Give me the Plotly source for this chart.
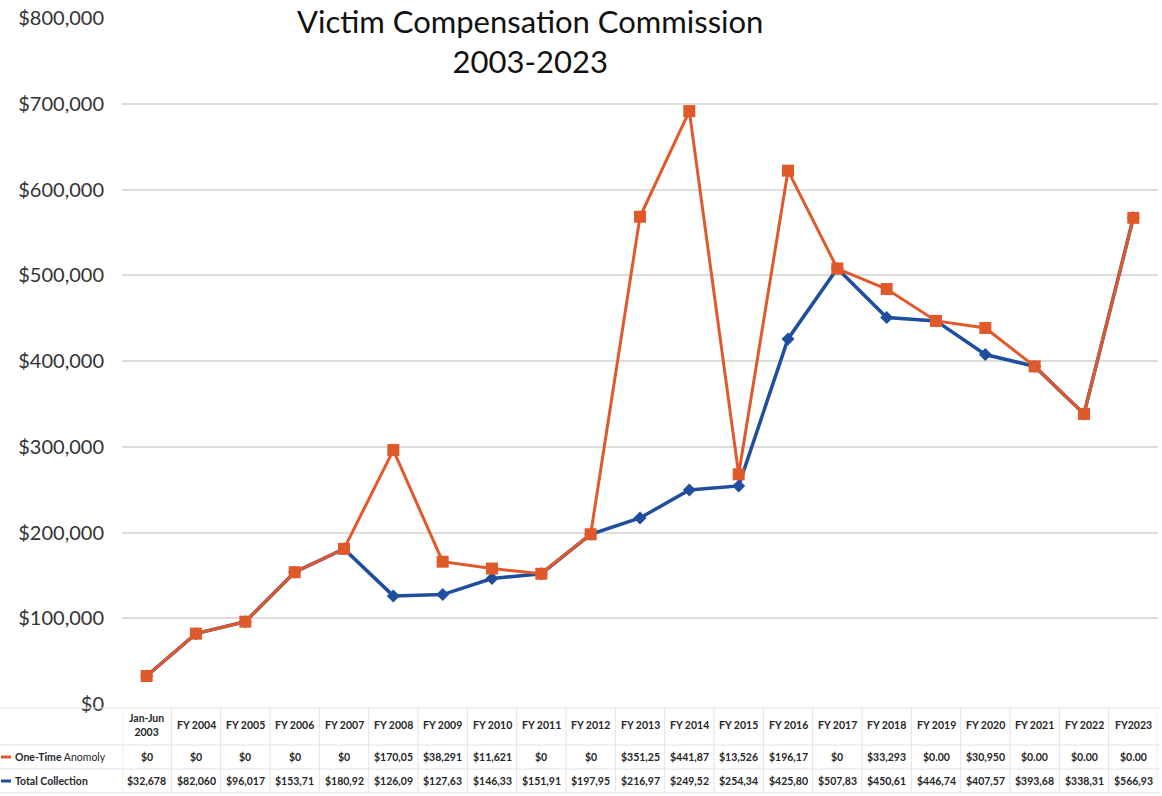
import plotly.graph_objects as go

categories = ["Jan-Jun<br>2003", "FY 2004", "FY 2005", "FY 2006", "FY 2007", "FY 2008",
              "FY 2009", "FY 2010", "FY 2011", "FY 2012", "FY 2013", "FY 2014", "FY 2015",
              "FY 2016", "FY 2017", "FY 2018", "FY 2019", "FY 2020", "FY 2021", "FY 2022", "FY2023"]
total_collection = [32678, 82060, 96017, 153710, 180920, 126090, 127630, 146330, 151910,
                    197950, 216970, 249520, 254340, 425800, 507830, 450610, 446740, 407570,
                    393680, 338310, 566930]
one_time_anomaly = [0, 0, 0, 0, 0, 170050, 38291, 11621, 0, 0, 351250, 441870, 13526,
                    196170, 0, 33293, 0, 30950, 0, 0, 0]
anomaly_labels = ["$0", "$0", "$0", "$0", "$0", "$170,05", "$38,291", "$11,621", "$0", "$0",
                  "$351,25", "$441,87", "$13,526", "$196,17", "$0", "$33,293", "$0.00",
                  "$30,950", "$0.00", "$0.00", "$0.00"]
total_labels = ["$32,678", "$82,060", "$96,017", "$153,71", "$180,92", "$126,09", "$127,63",
                "$146,33", "$151,91", "$197,95", "$216,97", "$249,52", "$254,34", "$425,80",
                "$507,83", "$450,61", "$446,74", "$407,57", "$393,68", "$338,31", "$566,93"]
y_ticks = [0, 100000, 200000, 300000, 400000, 500000, 600000, 700000, 800000]

ORANGE = "#E0592A"
BLUE = "#1F4E9E"
FONT = "Lato"
TXT = "#262626"

x = list(range(len(categories)))
stacked = [t + a for t, a in zip(total_collection, one_time_anomaly)]

fig = go.Figure()
fig.add_trace(go.Scatter(x=x, y=total_collection, mode="lines+markers", name="Total Collection",
                         line=dict(color=BLUE, width=3.5),
                         marker=dict(symbol="diamond", size=10, color=BLUE)))
fig.add_trace(go.Scatter(x=x, y=stacked, mode="lines+markers", name="One-Time Anomoly",
                         line=dict(color=ORANGE, width=3),
                         marker=dict(symbol="square", size=12, color=ORANGE)))

W, H = 1162, 796
ml, mr, mt, mb = 122, 4, 18, 92
ph = H - mt - mb
pw = W - ml - mr

def py(pix):
    return (H - mb - pix) / ph

def px(pix):
    return (pix - ml) / pw

annotations = []
for i, c in enumerate(categories):
    annotations.append(dict(x=i, xref="x", y=py(725), yref="paper", text="<b>" + c + "</b>",
                            showarrow=False, font=dict(family=FONT, size=10.5, color=TXT),
                            yanchor="middle"))
    annotations.append(dict(x=i, xref="x", y=py(757), yref="paper",
                            text="<b>" + anomaly_labels[i] + "</b>", showarrow=False,
                            font=dict(family=FONT, size=10.5, color=TXT), yanchor="middle"))
    annotations.append(dict(x=i, xref="x", y=py(781), yref="paper",
                            text="<b>" + total_labels[i] + "</b>", showarrow=False,
                            font=dict(family=FONT, size=10.5, color=TXT), yanchor="middle"))

annotations.append(dict(x=px(13), xref="paper", y=py(757), yref="paper",
                        text="<b>One-Time</b> Anomoly", showarrow=False, xanchor="left",
                        font=dict(family=FONT, size=10.5, color=TXT), yanchor="middle"))
annotations.append(dict(x=px(13), xref="paper", y=py(781), yref="paper",
                        text="<b>Total Collection</b>", showarrow=False, xanchor="left",
                        font=dict(family=FONT, size=10.5, color=TXT), yanchor="middle"))

annotations.append(dict(x=px(530), xref="paper", y=py(1), yref="paper",
                        text="Victim Compensation Commission<br>2003-2023", showarrow=False,
                        xanchor="center", yanchor="top", bgcolor="white", borderpad=0,
                        font=dict(family=FONT, size=31, color="#111111")))

shapes = []
grid = "#e3e3e3"
for ypix in [708, 745, 769, 793]:
    shapes.append(dict(type="line", xref="paper", yref="paper", x0=px(0), x1=px(1160),
                       y0=py(ypix), y1=py(ypix), line=dict(color=grid, width=1)))
for i in range(len(categories) + 1):
    shapes.append(dict(type="line", xref="x", yref="paper", x0=i - 0.5, x1=i - 0.5,
                       y0=py(708), y1=py(793), line=dict(color=grid, width=1)))
shapes.append(dict(type="line", xref="paper", yref="paper", x0=px(1), x1=px(11),
                   y0=py(757), y1=py(757), line=dict(color=ORANGE, width=3)))
shapes.append(dict(type="line", xref="paper", yref="paper", x0=px(1), x1=px(11),
                   y0=py(781), y1=py(781), line=dict(color=BLUE, width=3)))

fig.update_layout(
    width=W, height=H,
    margin=dict(l=ml, r=mr, t=mt, b=mb),
    paper_bgcolor="white", plot_bgcolor="white",
    showlegend=False,
    annotations=annotations,
    shapes=shapes,
    xaxis=dict(range=[-0.5, len(categories) - 0.5], showticklabels=False, showgrid=False,
               zeroline=False, showline=False, ticks=""),
    yaxis=dict(range=[0, 800000], tickvals=y_ticks,
               ticktext=["$" + format(v, ",") for v in y_ticks],
               showgrid=True, gridcolor="#dcdcdc", gridwidth=1.5, zeroline=False,
               tickfont=dict(family=FONT, size=20, color="#333333"), ticks="", ticklen=0,
               ticklabelstandoff=17, automargin=False),
)

fig.write_html("out.html", config={"displayModeBar": False},
               post_script="document.body.style.margin='0px';document.body.style.overflow='hidden';")
